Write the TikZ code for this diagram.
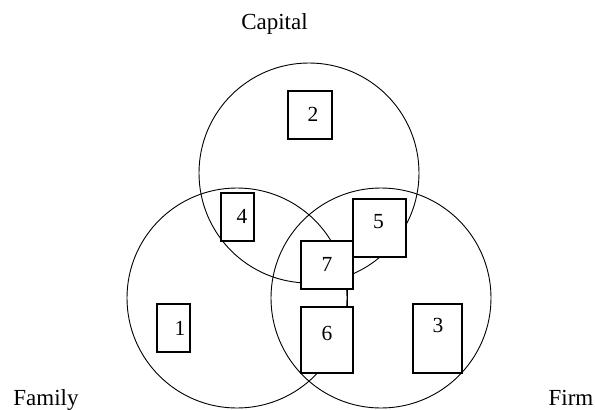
\documentclass[tikz,border=0pt]{standalone}
\usepackage{fontspec}
\setmainfont{Liberation Serif}
\begin{document}
\begin{tikzpicture}[x=1pt,y=-1pt,
  setcircle/.style={draw=black,line width=0.9pt},
  numbox/.style={draw=black,fill=white,line width=2pt,inner sep=0pt},
  digit/.style={inner sep=0pt,font=\fontsize{21.5}{25}\selectfont},
  caption/.style={anchor=base,inner sep=0pt,font=\fontsize{23}{27}\selectfont}]
\useasboundingbox (0,0) rectangle (595,410);
% circles
\draw[setcircle] (309,173) circle[radius=110];
\draw[setcircle] (237,298) circle[radius=110];
\draw[setcircle] (381,298) circle[radius=110];
% captions
\node[caption] (capital) at (274.5,29) {Capital};
\node[caption] (family) at (46,405) {Family};
\node[caption] (firm) at (571,405) {Firm};
% boxes
\node[numbox,minimum width=44pt,minimum height=48pt] (b2) at (309.5,114.5) {};
\node[numbox,minimum width=33pt,minimum height=48pt] (b4) at (237.5,217) {};
\node[numbox,minimum width=53pt,minimum height=58pt] (b5) at (379.5,228) {};
\node[numbox,minimum width=52pt,minimum height=48pt] (b7) at (327,264.5) {};
\node[numbox,minimum width=52pt,minimum height=66pt] (b6) at (327,340) {};
\node[numbox,minimum width=33pt,minimum height=48pt] (b1) at (173.5,328) {};
\node[numbox,minimum width=49pt,minimum height=69pt] (b3) at (437.5,338.5) {};
\draw[line width=0.9pt] ([xshift=20pt]b7.south) -- ([xshift=20pt]b6.north);
% digits
\node[digit] (d2) at (313,114) {2};
\node[digit] (d4) at (242,216) {4};
\node[digit] (d5) at (378.5,222) {5};
\node[digit] (d7) at (327,264) {7};
\node[digit] (d6) at (327,333) {6};
\node[digit] (d1) at (180,328) {1};
\node[digit] (d3) at (438,325) {3};
\end{tikzpicture}
\end{document}
